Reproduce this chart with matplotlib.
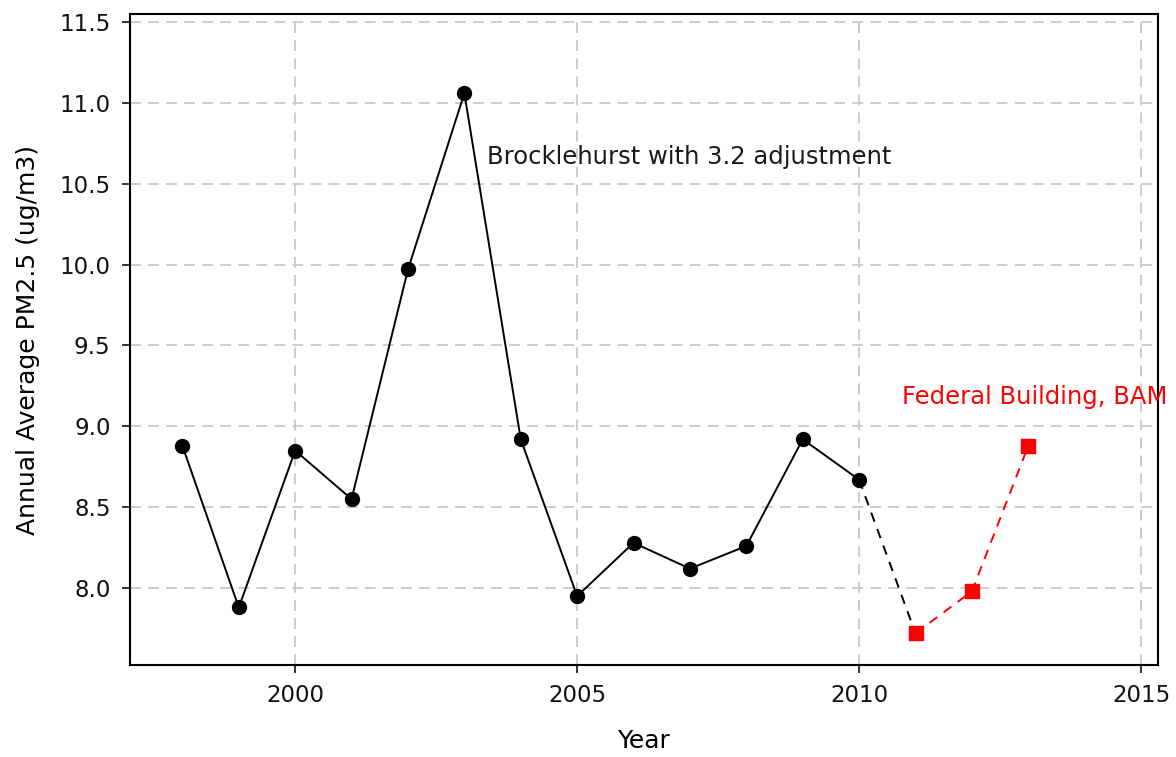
import matplotlib
matplotlib.use("Agg")
import matplotlib.pyplot as plt

years_brock = [1998, 1999, 2000, 2001, 2002, 2003, 2004, 2005, 2006, 2007, 2008, 2009, 2010]
pm_brock = [8.88, 7.88, 8.85, 8.55, 9.97, 11.06, 8.92, 7.95, 8.28, 8.12, 8.26, 8.92, 8.67]
years_fed = [2011, 2012, 2013]
pm_fed = [7.72, 7.98, 8.88]
xticks = [2000, 2005, 2010, 2015]
yticks = [8.0, 8.5, 9.0, 9.5, 10.0, 10.5, 11.0, 11.5]

fig = plt.figure(figsize=(11.76, 7.57), dpi=100)
ax = fig.add_axes([0.1105, 0.1215, 0.8742, 0.86])

ax.grid(True, color="#c8c8c8", linestyle=(0, (6, 4)), linewidth=1.3)
ax.set_axisbelow(True)

ax.plot(years_brock, pm_brock, color="black", linewidth=1.4, marker="o", markersize=10)
ax.plot([years_brock[-1], years_fed[0]], [pm_brock[-1], pm_fed[0]], color="black",
        linewidth=1.4, linestyle=(0, (5, 4)))
ax.plot(years_fed, pm_fed, color="red", linewidth=1.4, linestyle=(0, (5, 4)),
        marker="s", markersize=10)

ax.text(2003.4, 10.665, "Brocklehurst with 3.2 adjustment", fontsize=17.5, color="#1a1a1a",
        va="center", ha="left")
ax.text(2010.76, 9.18, "Federal Building, BAM", fontsize=17.5, color="red",
        va="center", ha="left", clip_on=False)

ax.set_xlim(1997.07, 2015.3)
ax.set_ylim(7.524, 11.55)
ax.set_xticks(xticks)
ax.set_yticks(yticks)
ax.set_yticklabels([f"{v:.1f}" for v in yticks])
ax.tick_params(labelsize=16.5, direction="out", length=6, width=1.2, colors="#111111", pad=8)
ax.set_xlabel("Year", fontsize=18)
ax.set_ylabel("Annual Average PM2.5 (ug/m3)", fontsize=18)
ax.xaxis.set_label_coords(0.5, -0.098)
ax.yaxis.set_label_coords(-0.0875, 0.5)
for s in ax.spines.values():
    s.set_linewidth(1.5)

fig.savefig("out.png", dpi=100)
